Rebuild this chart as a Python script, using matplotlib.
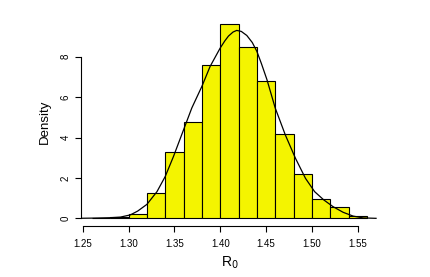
import numpy as np
import matplotlib
matplotlib.use('Agg')
import matplotlib.pyplot as plt

plt.rcParams['font.family'] = ['Liberation Sans', 'DejaVu Sans']

# histogram bins (width 0.02) and densities
bin_edges = [1.26, 1.28, 1.30, 1.32, 1.34, 1.36, 1.38, 1.40, 1.42,
             1.44, 1.46, 1.48, 1.50, 1.52, 1.54, 1.56]
bin_density = [0.03, 0.05, 0.20, 1.24, 3.30, 4.76, 7.60, 9.62,
               8.48, 6.81, 4.17, 2.18, 0.96, 0.55, 0.11]

# kernel density curve
kde_x = [1.243, 1.260, 1.280, 1.291, 1.302, 1.310, 1.320, 1.331, 1.340,
         1.349, 1.360, 1.369, 1.380, 1.389, 1.400, 1.405, 1.409, 1.414,
         1.418, 1.423, 1.429, 1.435, 1.440, 1.445, 1.451, 1.460, 1.471,
         1.482, 1.493, 1.503, 1.513, 1.523, 1.534, 1.545, 1.556, 1.570]
kde_y = [0.00, 0.01, 0.03, 0.06, 0.17, 0.36, 0.69, 1.32, 2.07,
         3.06, 4.38, 5.46, 6.53, 7.52, 8.43, 8.78, 9.02, 9.22,
         9.30, 9.25, 9.05, 8.70, 8.26, 7.65, 6.86, 5.46, 4.13,
         2.98, 1.98, 1.32, 0.91, 0.58, 0.30, 0.11, 0.02, 0.00]

x_ticks = [1.25, 1.30, 1.35, 1.40, 1.45, 1.50, 1.55]
y_ticks = [0, 2, 4, 6, 8]

fig = plt.figure(figsize=(4.30, 2.77), dpi=100)
ax = fig.add_axes([0.1881, 0.1838, 0.6907, 0.7563])

edges = np.array(bin_edges)
ax.bar(edges[:-1], bin_density, width=np.diff(edges), align='edge',
       color='#f4f400', edgecolor='black', linewidth=0.8)
ax.plot(kde_x, kde_y, color='black', linewidth=0.9)

ax.set_xlim(1.248, 1.572)
ax.set_ylim(-0.384, 9.984)
ax.set_xticks(x_ticks)
ax.set_xticklabels(['%.2f' % v for v in x_ticks])
ax.set_yticks(y_ticks)
ax.set_yticklabels([str(v) for v in y_ticks], rotation=90, va='center')

for s in ['top', 'right']:
    ax.spines[s].set_visible(False)
ax.spines['left'].set_bounds(0, 8)
ax.spines['bottom'].set_bounds(1.25, 1.55)
ax.spines['left'].set_linewidth(0.8)
ax.spines['bottom'].set_linewidth(0.8)
ax.tick_params(axis='x', length=4, width=0.8, labelsize=7, pad=5)
ax.tick_params(axis='y', length=4, width=0.8, labelsize=7, pad=3.5)

ax.set_xlabel('R$_0$', fontsize=10, labelpad=4)
ax.set_ylabel('Density', fontsize=9.5, labelpad=7)

fig.savefig('out.png', dpi=100)
